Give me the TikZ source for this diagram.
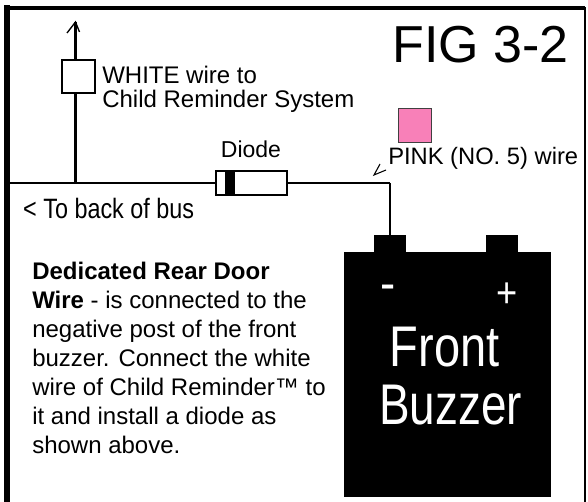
\documentclass[tikz,border=0pt]{standalone}
\usepackage{fontspec}
\setmainfont{Liberation Sans}
\usetikzlibrary{calc}
\usetikzlibrary{arrows.meta}

\definecolor{pinkwire}{HTML}{F880B8}

\tikzset{
  label text/.style={inner sep=0pt,font=\fontsize{18pt}{18pt}\selectfont},
  slim text/.style={inner sep=0pt,transform shape,text=white},
  wire/.style={line width=1.8pt},
  post/.style={fill=black,inner sep=0pt,minimum width=24pt,minimum height=13pt},
}

\begin{document}
\begin{tikzpicture}[x=0.75pt,y=-0.75pt]
  \useasboundingbox (0,0) rectangle (588,502);
  \fill[white] (0,0) rectangle (588,502);

  % frame
  \draw[line width=1.2pt] (7,8) -- (585,8) -- (585,502);
  \draw[line width=4.5pt] (7,5.5) -- (7,502);
  \draw[line width=3pt] (5,8) -- (585,8);

  % title
  \node(title) at (480.5,45) [inner sep=0pt,font=\fontsize{39pt}{40pt}\selectfont] {FIG 3-2};

  % buzzer
  \node(body) at (447.5,374.5) [fill=black,inner sep=0pt,minimum width=155.25pt,minimum height=183.75pt] {};
  \node(postneg) at (390,243.5) [post] {};
  \node(postpos) at (502,243.5) [post] {};
  \node(minus) at (388,293) [slim text,xscale=0.9,font=\fontsize{38pt}{38pt}\selectfont] {-};
  \node(plus) at (507,295) [slim text,xscale=0.85,font=\fontsize{32pt}{32pt}\selectfont] {+};
  \node(front) at (444.5,347) [slim text,xscale=0.82,font=\fontsize{43pt}{43pt}\selectfont] {Front};
  \node(buzzer) at (450.5,405) [slim text,xscale=0.8,font=\fontsize{43pt}{43pt}\selectfont] {Buzzer};

  % wires
  \coordinate (busend) at (9,183);
  \coordinate (joint) at (75.5,183);
  \coordinate (corner) at (390,183);
  \coordinate (wiretop) at (75.5,22);
  \node(diode) at (251.5,183) [draw,wire,fill=white,inner sep=0pt,minimum width=53pt,minimum height=18pt] {};
  \fill (225,172) rectangle (235,194);
  \node(whitebox) at (78.5,76.5) [draw,wire,fill=white,inner sep=0pt,minimum width=24.5pt,minimum height=24.5pt] {};
  \draw[wire] (busend) -- (diode);
  \draw[wire] (diode) -- (corner);
  \draw[line width=1.1pt] (corner) -- (postneg);
  \draw[line width=2.2pt] (joint) -- (joint |- whitebox.south);
  \draw[line width=2.2pt] (joint |- whitebox.north) -- (wiretop);
  \draw[line width=1pt] (67,33) -- (wiretop) -- (79.5,32);

  % labels
  \node(whitetext) at (102,89) [label text,anchor=west,align=left] {WHITE wire to\\Child Reminder System};
  \node(diodetext) at (251,149) [inner sep=0pt,font=\fontsize{17.25pt}{18pt}\selectfont] {Diode};
  \node(pinkbox) at (415,125.5) [draw=black!75,line width=0.8pt,fill=pinkwire,inner sep=0pt,minimum width=25pt,minimum height=25pt] {};
  \node(pinktext) at (388,158) [inner sep=0pt,anchor=west,font=\fontsize{17.8pt}{18pt}\selectfont] {PINK (NO. 5) wire};
  \coordinate (pinktip) at (374,175);
  \draw[line width=0.8pt] (386,170) -- (pinktip) -- (380,164);
  \node(busback) at (23,208) [anchor=west,inner sep=0pt,xscale=0.835,transform shape,font=\fontsize{21pt}{21pt}\selectfont] {< To back of bus};

  % note
  \node(note) at (32,358) [anchor=west,inner sep=0pt,align=left,font=\fontsize{18pt}{21.75pt}\selectfont] {\textbf{Dedicated Rear Door}\\\textbf{Wire} - is connected to the\\negative post of the front\\buzzer. Connect the white\\wire of Child Reminder™ to\\it and install a diode as\\shown above.};
\end{tikzpicture}
\end{document}
